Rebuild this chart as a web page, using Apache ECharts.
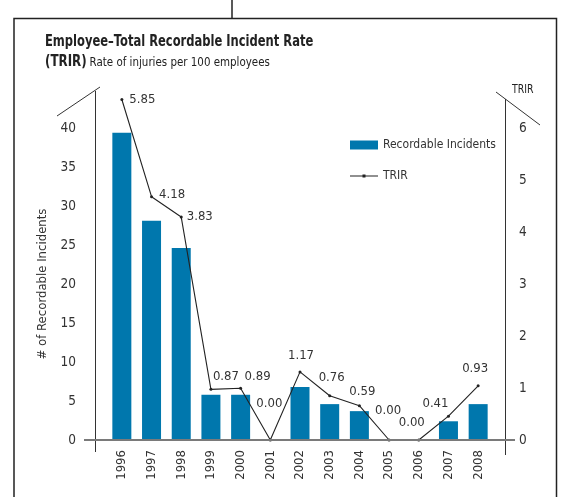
<!DOCTYPE html>
<html>
<head>
<meta charset="utf-8">
<script src="https://cdn.jsdelivr.net/npm/echarts@6/dist/echarts.min.js"></script>
<style>
  html, body { margin: 0; padding: 0; background: #fff; }
  #main { width: 569px; height: 497px; }
</style>
</head>
<body>
<div id="main"></div>
<script>
// 年份 / 事故数 / TRIR
const years = ['1996', '1997', '1998', '1999', '2000', '2001', '2002', '2003', '2004', '2005', '2006', '2007', '2008']
const incidents = [39.4, 28.1, 24.6, 5.8, 5.8, 0, 6.8, 4.6, 3.7, 0, 0, 2.4, 4.6]
const trir = [5.85, 4.18, 3.83, 0.87, 0.89, 0.0, 1.17, 0.76, 0.59, 0.0, 0.0, 0.41, 0.93]
const leftTicks = [0, 5, 10, 15, 20, 25, 30, 35, 40]
const rightTicks = [0, 1, 2, 3, 4, 5, 6]

const FONT = "'DejaVu Sans Condensed', 'DejaVu Sans', sans-serif"
const TEXT = '#333'
const BLUE = '#0077ad'

const chartInstance = echarts.init(document.getElementById('main'))

// label tweaks, so the numbers sit where they sit in the print
const labelTweak = {
  0: { position: 'right', distance: 6 },
  1: { position: 'right', distance: 6, offset: [0, -2] },
  2: { position: 'right', distance: 4 },
  3: { offset: [15, 0] },
  4: { offset: [17, 1] },
  5: { offset: [-1, -23] },
  6: { offset: [1, -3] },
  7: { offset: [2, -5] },
  8: { offset: [3, -1] },
  9: { offset: [-1, -16] },
  10: { offset: [-7, -4] },
  11: { offset: [-13, 0] },
  12: { offset: [-3, -4] },
}

const lineData = trir.map((v, i) => {
  const t = labelTweak[i] || {}
  return {
    value: v,
    label: {
      position: t.position || 'top',
      distance: t.distance !== undefined ? t.distance : 5,
      offset: t.offset || [0, 0],
    },
  }
})

// narrow text drawn as graphic (the print uses a condensed face)
function narrowText(x, y, text, font, sx) {
  return {
    type: 'text', x: x, y: y, scaleX: sx,
    style: { text: text, font: font, fill: '#222', verticalAlign: 'top' },
  }
}

const initOption = {
  animation: false,
  textStyle: { fontFamily: FONT },
  grid: { left: 107, right: 76, top: 128, bottom: 57 },
  legend: {
    orient: 'vertical',
    left: 345,
    top: 134,
    itemWidth: 28,
    itemHeight: 9,
    itemGap: 19,
    textStyle: { fontFamily: FONT, fontSize: 12, color: TEXT },
    data: [
      { name: 'Recordable Incidents', icon: 'rect' },
      {
        name: 'TRIR',
        icon: 'path://M0,0h0.01v0.01h-0.01z M0,4h28v1h-28z M12.5,3h3v3h-3z M27.99,8.99h0.01v0.01h-0.01z',
        itemStyle: { color: '#222' },
      },
    ],
  },
  xAxis: {
    type: 'category',
    data: years,
    axisLine: { show: false },
    axisTick: { show: false },
    axisLabel: { rotate: 90, margin: 10, fontSize: 13, color: TEXT, fontFamily: FONT },
  },
  yAxis: [
    {
      type: 'value',
      min: 0,
      max: leftTicks[leftTicks.length - 1],
      interval: leftTicks[1] - leftTicks[0],
      name: '# of Recordable Incidents',
      nameLocation: 'middle',
      nameGap: 58,
      nameTextStyle: { fontSize: 13, color: TEXT, fontFamily: FONT },
      axisLine: { show: false },
      axisTick: { show: false },
      splitLine: { show: false },
      axisLabel: { margin: 31, fontSize: 13.5, color: TEXT, fontFamily: FONT },
    },
    {
      type: 'value',
      min: 0,
      max: rightTicks[rightTicks.length - 1],
      interval: 1,
      position: 'right',
      axisLine: { show: false },
      axisTick: { show: false },
      splitLine: { show: false },
      axisLabel: { margin: 26, fontSize: 13.5, color: TEXT, fontFamily: FONT },
    },
    {
      // the printed line runs on a slightly stretched scale
      type: 'value',
      min: 0,
      max: 5.36,
      position: 'right',
      show: false,
    },
  ],
  graphic: [
    // frame
    { type: 'polyline', shape: { points: [[14, 497], [14, 18.5], [556.5, 18.5], [556.5, 497]] }, style: { stroke: '#222', lineWidth: 1.5, fill: null } },
    { type: 'line', shape: { x1: 232, y1: 0, x2: 232, y2: 18 }, style: { stroke: '#222', lineWidth: 1.5 } },
    // titles
    narrowText(45, 34, 'Employee\u2013Total Recordable Incident Rate', 'bold 16px ' + FONT, 0.8),
    {
      type: 'text', x: 45, y: 55, scaleX: 0.88,
      style: {
        text: '{b|(TRIR)} {r|Rate of injuries per 100 employees}',
        verticalAlign: 'top',
        rich: {
          b: { font: 'bold 15px ' + FONT, fill: '#222' },
          r: { font: '13px ' + FONT, fill: '#222' },
        },
      },
    },
    // left axis decoration
    { type: 'line', shape: { x1: 95.5, y1: 91, x2: 95.5, y2: 452 }, style: { stroke: '#333', lineWidth: 1 } },
    { type: 'line', shape: { x1: 57, y1: 116, x2: 100, y2: 87 }, style: { stroke: '#333', lineWidth: 1 } },
    // right axis decoration
    { type: 'line', shape: { x1: 505.5, y1: 99, x2: 505.5, y2: 455 }, style: { stroke: '#333', lineWidth: 1 } },
    { type: 'line', shape: { x1: 496, y1: 92, x2: 540, y2: 125 }, style: { stroke: '#333', lineWidth: 1 } },
    narrowText(512, 83, 'TRIR', '13px ' + FONT, 0.8),
    // zero line
    { type: 'line', z: 100, shape: { x1: 84, y1: 440, x2: 515, y2: 440 }, style: { stroke: '#7a7a7a', lineWidth: 2 } },
  ],
  series: [
    {
      name: 'Recordable Incidents',
      type: 'bar',
      yAxisIndex: 0,
      barWidth: 19,
      itemStyle: { color: BLUE },
      data: incidents,
    },
    {
      name: 'TRIR',
      type: 'line',
      yAxisIndex: 2,
      z: 5,
      clip: false,
      symbol: 'circle',
      symbolSize: 3,
      lineStyle: { color: '#222', width: 1.1 },
      itemStyle: { color: '#222' },
      label: {
        show: true,
        fontSize: 13,
        color: TEXT,
        fontFamily: FONT,
        formatter: (p) => p.value.toFixed(2),
      },
      data: lineData,
    },
  ],
}

chartInstance.setOption(initOption)
</script>
</body>
</html>
